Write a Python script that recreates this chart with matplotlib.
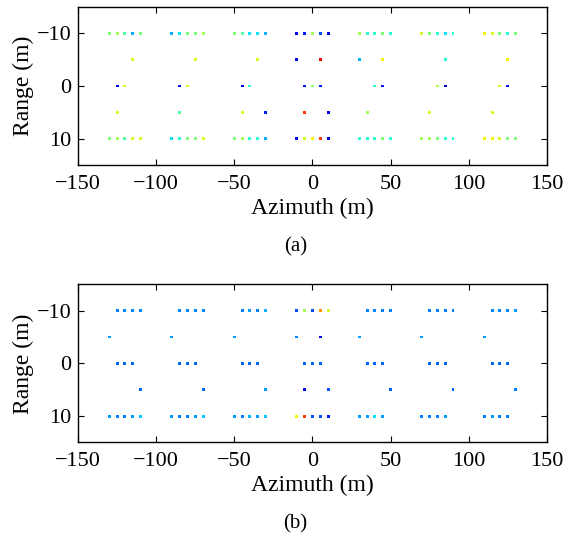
import numpy as np
import matplotlib
matplotlib.use("Agg")
import matplotlib.pyplot as plt

# ==================================================
# DATA
# azimuth (m), range (m), normalised amplitude (jet colour)
# ==================================================

# panel (a)
az_a = [
    -130, -125, -120, -115, -110, -90, -85, -80, -75, -70, -50, -45, -40, -35, -30,
    -10, -5, 0, 5, 10, 30, 35, 40, 45, 50, 70, 75, 80, 85, 90, 110, 115, 120, 125, 130,
    -115, -75, -35, -10, 5, 30, 45, 85, 125,
    -125, -120, -85, -80, -45, -40, -5, 0, 5, 40, 45, 80, 85, 120, 125,
    -125, -85, -45, -30, -5, 10, 35, 75, 115,
    -130, -125, -120, -115, -110, -90, -85, -80, -75, -70, -50, -45, -40, -35, -30,
    -10, -5, 0, 5, 10, 30, 35, 40, 45, 50, 70, 75, 80, 85, 90, 110, 115, 120, 125, 130,
]
rg_a = [-10] * 35 + [-5] * 9 + [0] * 15 + [5] * 9 + [10] * 35
val_a = [
    0.50, 0.55, 0.45, 0.30, 0.50, 0.30, 0.35, 0.50, 0.50, 0.55, 0.50, 0.45, 0.35, 0.35, 0.30,
    0.10, 0.15, 0.55, 0.20, 0.08, 0.55, 0.40, 0.40, 0.50, 0.40, 0.60, 0.50, 0.40, 0.35, 0.40,
    0.65, 0.60, 0.50, 0.40, 0.50,
    0.60, 0.60, 0.60, 0.10, 0.90, 0.30, 0.65, 0.40, 0.65,
    0.10, 0.60, 0.15, 0.60, 0.10, 0.40, 0.15, 0.50, 0.15, 0.40, 0.15, 0.55, 0.05, 0.60, 0.15,
    0.60, 0.45, 0.60, 0.15, 0.85, 0.10, 0.55, 0.60, 0.60,
    0.50, 0.55, 0.45, 0.60, 0.60, 0.35, 0.40, 0.50, 0.50, 0.62, 0.50, 0.55, 0.40, 0.40, 0.30,
    0.10, 0.60, 0.65, 0.85, 0.08, 0.40, 0.40, 0.40, 0.50, 0.40, 0.55, 0.55, 0.50, 0.40, 0.40,
    0.65, 0.65, 0.60, 0.50, 0.50,
]

# panel (b)
az_b = [
    -125, -120, -115, -110, -85, -80, -75, -70, -45, -40, -35, -30,
    -10, -5, 0, 5, 10, 35, 40, 45, 50, 75, 80, 85, 90, 115, 120, 125, 130,
    -130, -90, -50, -10, 5, 30, 70, 110,
    -125, -120, -115, -85, -80, -75, -45, -40, -35, -5, 0, 5,
    35, 40, 45, 75, 80, 85, 115, 120, 125,
    -110, -70, -30, -5, 10, 50, 90, 130,
    -130, -125, -120, -115, -110, -90, -85, -80, -75, -70, -50, -45, -40, -35, -30,
    -10, -5, 0, 5, 10, 30, 35, 40, 45, 70, 75, 80, 85, 110, 115, 120, 125,
]
rg_b = [-10] * 29 + [-5] * 8 + [0] * 21 + [5] * 8 + [10] * 32
val_b = [
    0.25, 0.25, 0.25, 0.25, 0.25, 0.25, 0.25, 0.25, 0.25, 0.28, 0.25, 0.30,
    0.20, 0.55, 0.20, 0.75, 0.60, 0.25, 0.25, 0.25, 0.25, 0.25, 0.25, 0.25, 0.25,
    0.25, 0.25, 0.25, 0.28,
    0.28, 0.28, 0.28, 0.25, 0.10, 0.28, 0.28, 0.28,
    0.22, 0.22, 0.22, 0.22, 0.22, 0.22, 0.22, 0.22, 0.22, 0.22, 0.22, 0.22,
    0.22, 0.22, 0.22, 0.22, 0.22, 0.22, 0.22, 0.22, 0.22,
    0.22, 0.22, 0.28, 0.10, 0.20, 0.22, 0.22, 0.25,
    0.28, 0.25, 0.25, 0.28, 0.32, 0.28, 0.25, 0.25, 0.28, 0.32, 0.28, 0.25, 0.30, 0.28, 0.32,
    0.65, 0.85, 0.20, 0.20, 0.15, 0.28, 0.28, 0.35, 0.28, 0.25, 0.25, 0.25, 0.28,
    0.25, 0.28, 0.25, 0.25,
]

XTICKS = [-150, -100, -50, 0, 50, 100, 150]
YTICKS = [-10, 0, 10]
CAPTIONS = ["(a)", "(b)"]

# ==================================================
# PLOT
# ==================================================

plt.rcParams["font.family"] = ["Liberation Serif", "DejaVu Serif"]

fig = plt.figure(figsize=(5.66, 5.35), dpi=100)
ax_a = fig.add_axes([0.138, 0.691, 0.828, 0.2966])
ax_b = fig.add_axes([0.138, 0.173, 0.828, 0.2957])

panels = [(ax_a, az_a, rg_a, val_a), (ax_b, az_b, rg_b, val_b)]
for (ax, az, rg, val), cap in zip(panels, CAPTIONS):
    ax.scatter(az, rg, c=val, cmap="jet", vmin=0, vmax=1, s=4.5, marker="s",
               linewidths=0)
    ax.set_xlim(-150, 150)
    ax.set_ylim(15, -15)
    ax.set_xticks(XTICKS)
    ax.set_yticks(YTICKS)
    ax.tick_params(direction="in", top=True, right=True, labelsize=16,
                   length=4, width=0.8, pad=5)
    ax.tick_params(axis="x", pad=7)
    for sp in ax.spines.values():
        sp.set_linewidth(1.0)
    ax.set_xlabel("Azimuth (m)", fontsize=17, labelpad=2.5)
    ax.set_ylabel("Range (m)", fontsize=17, labelpad=2)
    bb = ax.get_position()
    fig.text(0.522, bb.y0 - 0.152, cap, fontsize=15, ha="center", va="center")

fig.savefig("out.png", dpi=100)
